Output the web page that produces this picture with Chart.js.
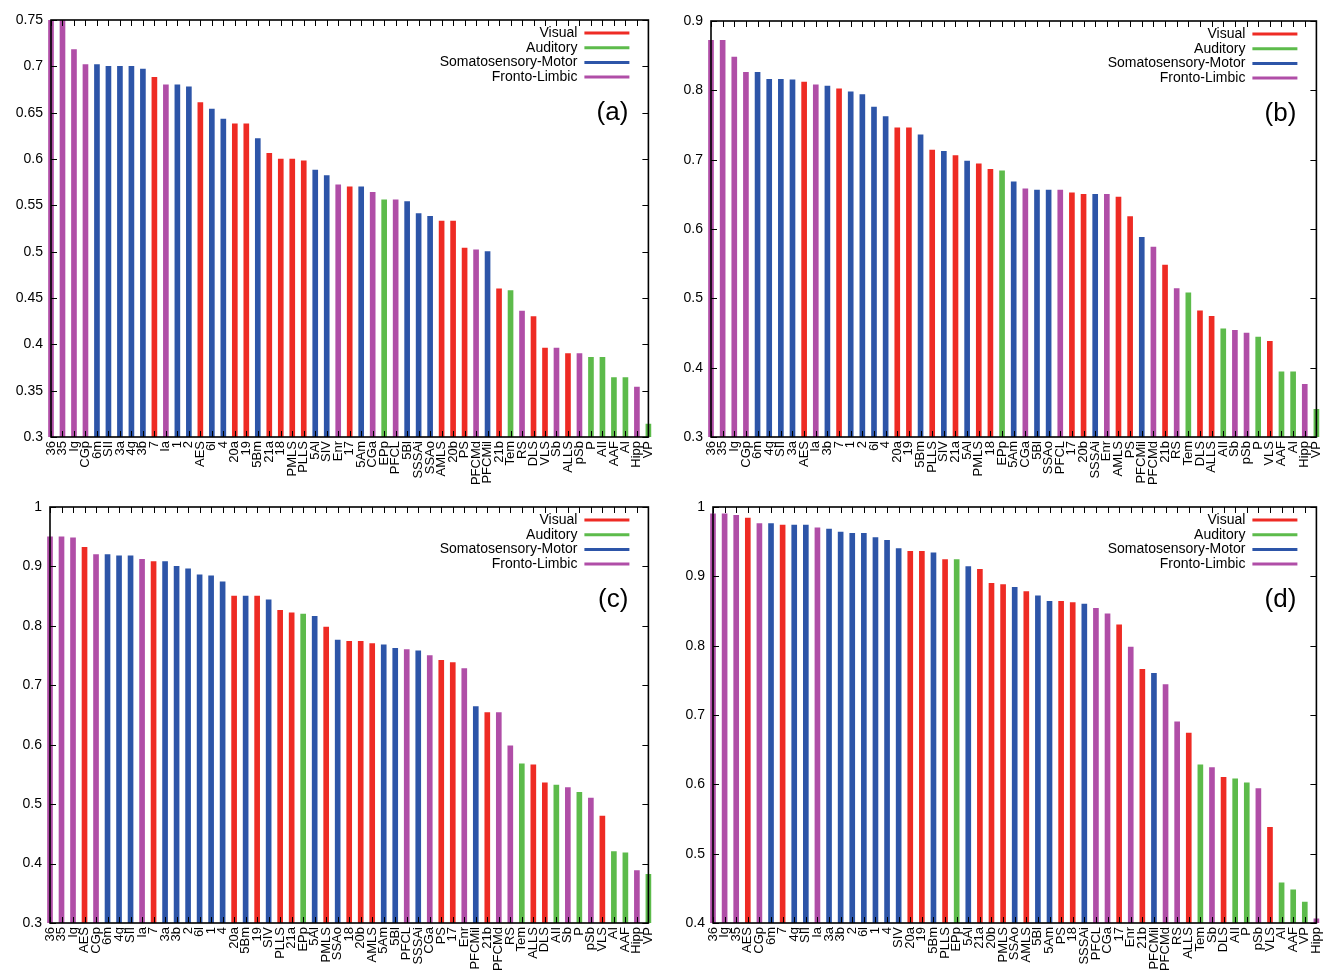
<!DOCTYPE html>
<html>
<head>
<meta charset="utf-8">
<script src="https://cdn.jsdelivr.net/npm/chart.js@4/dist/chart.umd.min.js"></script>
<style>
  body { margin: 0; background: #fff; }
  #wrap { position: relative; width: 1336px; height: 979px; }
  canvas { position: absolute; }
</style>
</head>
<body>
<div id="wrap">
  <canvas id="chartA" style="left:0;top:0"></canvas>
  <canvas id="chartB" style="left:668px;top:0"></canvas>
  <canvas id="chartC" style="left:0;top:490px"></canvas>
  <canvas id="chartD" style="left:668px;top:490px"></canvas>
</div>
<script>
//DATA
//-----------------------------------------

// areas of each system (used for bar colours)
let visualAreas = ['17','18','19','PLLS','PMLS','AMLS','ALLS','VLS','DLS','21a','21b','20a','20b','7','AES','PS']
let auditoryAreas = ['AI','AII','AAF','P','VP','EPp','Tem']
let somatoMotorAreas = ['3a','3b','1','2','SII','SIV','4g','4','6l','6m','5Am','5Al','5Bm','5Bl','SSSAi','SSAo','PFCMil']
let frontoLimbicAreas = ['PFCMd','PFCL','Ia','Ig','CGa','CGp','RS','35','36','pSb','Sb','Enr','Hipp']

let legendNames = ['Visual', 'Auditory', 'Somatosensory-Motor', 'Fronto-Limbic']
let legendColors = ['#ee2b24', '#5dbb4b', '#2d55a8', '#b04ea7']

// panel (a)
let labelsA = ['36','35','Ig','CGp','6m','SII','3a','4g','3b','7','Ia','1','2','AES','6l','4','20a','19','5Bm','21a','18','PMLS','PLLS','5Al','SIV','Enr','17','5Am','CGa','EPp','PFCL','5Bl','SSSAi','SSAo','AMLS','20b','PS','PFCMd','PFCMil','21b','Tem','RS','DLS','VLS','Sb','ALLS','pSb','P','AII','AAF','AI','Hipp','VP']
let valuesA = [0.750,0.750,0.718,0.702,0.702,0.700,0.700,0.700,0.697,0.688,0.680,0.680,0.678,0.661,0.654,0.643,0.638,0.638,0.622,0.606,0.600,0.600,0.598,0.588,0.582,0.572,0.570,0.570,0.564,0.556,0.556,0.554,0.541,0.538,0.533,0.533,0.504,0.502,0.500,0.460,0.458,0.436,0.430,0.396,0.396,0.390,0.390,0.386,0.386,0.364,0.364,0.354,0.314]
let yTicksA = [0.3,0.35,0.4,0.45,0.5,0.55,0.6,0.65,0.7,0.75]

// panel (b)
let labelsB = ['36','35','Ig','CGp','6m','4g','SII','3a','AES','Ia','3b','7','1','2','6l','4','20a','19','5Bm','PLLS','SIV','21a','5Al','PMLS','18','EPp','5Am','CGa','5Bl','SSAo','PFCL','17','20b','SSSAi','Enr','AMLS','PS','PFCMil','PFCMd','21b','RS','Tem','DLS','ALLS','AII','Sb','pSb','P','VLS','AAF','AI','Hipp','VP']
let valuesB = [0.872,0.872,0.848,0.826,0.826,0.816,0.816,0.815,0.812,0.808,0.806,0.802,0.798,0.794,0.776,0.762,0.746,0.746,0.736,0.714,0.712,0.706,0.698,0.694,0.686,0.684,0.668,0.658,0.656,0.656,0.656,0.652,0.650,0.650,0.650,0.646,0.618,0.588,0.574,0.548,0.514,0.508,0.482,0.474,0.456,0.454,0.450,0.444,0.438,0.394,0.394,0.376,0.340]
let yTicksB = [0.3,0.4,0.5,0.6,0.7,0.8,0.9]

// panel (c)
let labelsC = ['36','35','Ig','AES','CGp','6m','4g','SII','Ia','7','3a','3b','2','6l','1','4','20a','5Bm','19','SIV','PLLS','21a','EPp','5Al','PMLS','SSAo','18','20b','AMLS','5Am','5Bl','PFCL','SSSAi','CGa','PS','17','Enr','PFCMil','21b','PFCMd','RS','Tem','ALLS','DLS','AII','Sb','P','pSb','VLS','AI','AAF','Hipp','VP']
let valuesC = [0.950,0.950,0.948,0.932,0.920,0.920,0.918,0.918,0.912,0.908,0.908,0.900,0.896,0.886,0.884,0.874,0.850,0.850,0.850,0.844,0.826,0.822,0.820,0.816,0.798,0.776,0.774,0.774,0.770,0.768,0.762,0.760,0.758,0.750,0.742,0.738,0.728,0.664,0.654,0.654,0.598,0.568,0.566,0.536,0.532,0.528,0.520,0.510,0.480,0.420,0.418,0.388,0.382]
let yTicksC = [0.3,0.4,0.5,0.6,0.7,0.8,0.9,1]

// panel (d)
let labelsD = ['36','Ig','35','AES','CGp','6m','7','4g','SII','Ia','3a','3b','2','6l','1','4','SIV','20a','19','5Bm','PLLS','EPp','5Al','21a','20b','PMLS','SSAo','AMLS','5Bl','5Am','PS','18','SSSAi','PFCL','CGa','17','Enr','21b','PFCMil','PFCMd','RS','ALLS','Tem','Sb','DLS','AII','P','pSb','VLS','AI','AAF','VP','Hipp']
let valuesD = [0.990,0.990,0.988,0.984,0.976,0.976,0.974,0.974,0.974,0.970,0.968,0.964,0.962,0.962,0.956,0.952,0.940,0.936,0.936,0.934,0.924,0.924,0.914,0.910,0.890,0.888,0.884,0.878,0.872,0.864,0.864,0.862,0.860,0.854,0.846,0.830,0.798,0.766,0.760,0.744,0.690,0.674,0.628,0.624,0.610,0.608,0.602,0.594,0.538,0.458,0.448,0.430,0.406]
let yTicksD = [0.4,0.5,0.6,0.7,0.8,0.9,1]

//-----------------------------------------------
//END OF DATA

//colour of a bar from its area name
function areaColor(name){
    if(visualAreas.includes(name)) return legendColors[0]
    if(auditoryAreas.includes(name)) return legendColors[1]
    if(somatoMotorAreas.includes(name)) return legendColors[2]
    return legendColors[3]
}

//box, inward ticks, legend and panel letter (gnuplot look)
const framePlugin = {
    id: 'frame',
    afterDatasetsDraw(chart, args, opts) {
        const ctx = chart.ctx
        const a = chart.chartArea
        const x = chart.scales.x
        const y = chart.scales.y
        ctx.save()
        ctx.strokeStyle = '#000'
        ctx.lineWidth = 1
        ctx.beginPath()
        for(let i = 0; i < x.ticks.length; i++){
            let px = Math.round(x.getPixelForTick(i)) + 0.5
            ctx.moveTo(px, a.bottom); ctx.lineTo(px, a.bottom - 6)
            ctx.moveTo(px, a.top); ctx.lineTo(px, a.top + 6)
        }
        for(let i = 0; i < y.ticks.length; i++){
            let py = Math.round(y.getPixelForTick(i)) + 0.5
            ctx.moveTo(a.left, py); ctx.lineTo(a.left + 6, py)
            ctx.moveTo(a.right, py); ctx.lineTo(a.right - 6, py)
        }
        ctx.stroke()
        ctx.lineWidth = 1.6
        ctx.strokeRect(a.left, a.top, a.right - a.left, a.bottom - a.top)

        //legend
        ctx.font = '14px "Liberation Sans", Arial, sans-serif'
        ctx.textAlign = 'right'
        ctx.textBaseline = 'middle'
        for(let i = 0; i < legendNames.length; i++){
            let ly = a.top + 13 + i * 14.7
            ctx.fillStyle = '#000'
            ctx.fillText(legendNames[i], a.right - 71, ly)
            ctx.strokeStyle = legendColors[i]
            ctx.lineWidth = 3
            ctx.beginPath()
            ctx.moveTo(a.right - 64, ly); ctx.lineTo(a.right - 19, ly)
            ctx.stroke()
        }

        //panel letter
        ctx.fillStyle = '#000'
        ctx.font = '26px "Liberation Sans", Arial, sans-serif'
        ctx.fillText(opts.letter, a.right - 20, a.top + 93)
        ctx.restore()
    }
}

function makePanel(id, w, h, pad, yWidth, xHeight, labels, values, yTicks, letter){
    let canvas = document.getElementById(id)
    canvas.style.width = w + 'px'
    canvas.style.height = h + 'px'
    return new Chart(canvas.getContext('2d'), {
        type: 'bar',
        data: {
            labels: labels,
            datasets: [{
                data: values,
                backgroundColor: labels.map(areaColor),
                barThickness: 5,
                borderWidth: 0,
                // first and last bars sit on the side axes, not cut in half
                clip: { left: false, right: false, top: 0, bottom: 0 }
            }]
        },
        options: {
            responsive: false,
            animation: false,
            devicePixelRatio: 1,
            layout: { padding: pad },
            plugins: {
                legend: { display: false },
                tooltip: { enabled: false },
                frame: { letter: letter }
            },
            scales: {
                x: {
                    offset: false,
                    grid: { display: false, drawTicks: false, offset: false },
                    border: { display: false },
                    afterFit: s => { s.height = xHeight },
                    ticks: {
                        autoSkip: false,
                        minRotation: 90,
                        maxRotation: 90,
                        padding: 4,
                        color: '#000',
                        font: { family: '"Liberation Sans", Arial, sans-serif', size: 13 }
                    }
                },
                y: {
                    min: yTicks[0],
                    max: yTicks[yTicks.length - 1],
                    grid: { display: false, drawTicks: false },
                    border: { display: false },
                    afterFit: s => { s.width = yWidth },
                    afterBuildTicks: s => { s.ticks = yTicks.map(v => ({ value: v })) },
                    ticks: {
                        padding: 8,
                        color: '#000',
                        callback: v => String(v),
                        font: { family: '"Liberation Sans", Arial, sans-serif', size: 14 }
                    }
                }
            }
        },
        plugins: [framePlugin]
    })
}

function sizeCanvas(id, w, h){
    let c = document.getElementById(id)
    c.width = w
    c.height = h
}
sizeCanvas('chartA', 668, 490)
sizeCanvas('chartB', 668, 490)
sizeCanvas('chartC', 668, 489)
sizeCanvas('chartD', 668, 489)

let chartA = makePanel('chartA', 668, 490, { top: 20, right: 13, left: 0, bottom: 0 }, 51, 53, labelsA, valuesA, yTicksA, '(a)')
let chartB = makePanel('chartB', 668, 490, { top: 21, right: 11, left: 0, bottom: 0 }, 43, 53, labelsB, valuesB, yTicksB, '(b)')
let chartC = makePanel('chartC', 668, 489, { top: 17, right: 13, left: 0, bottom: 0 }, 50, 56, labelsC, valuesC, yTicksC, '(c)')
let chartD = makePanel('chartD', 668, 489, { top: 17, right: 10, left: 0, bottom: 0 }, 45, 56, labelsD, valuesD, yTicksD, '(d)')
</script>
</body>
</html>
